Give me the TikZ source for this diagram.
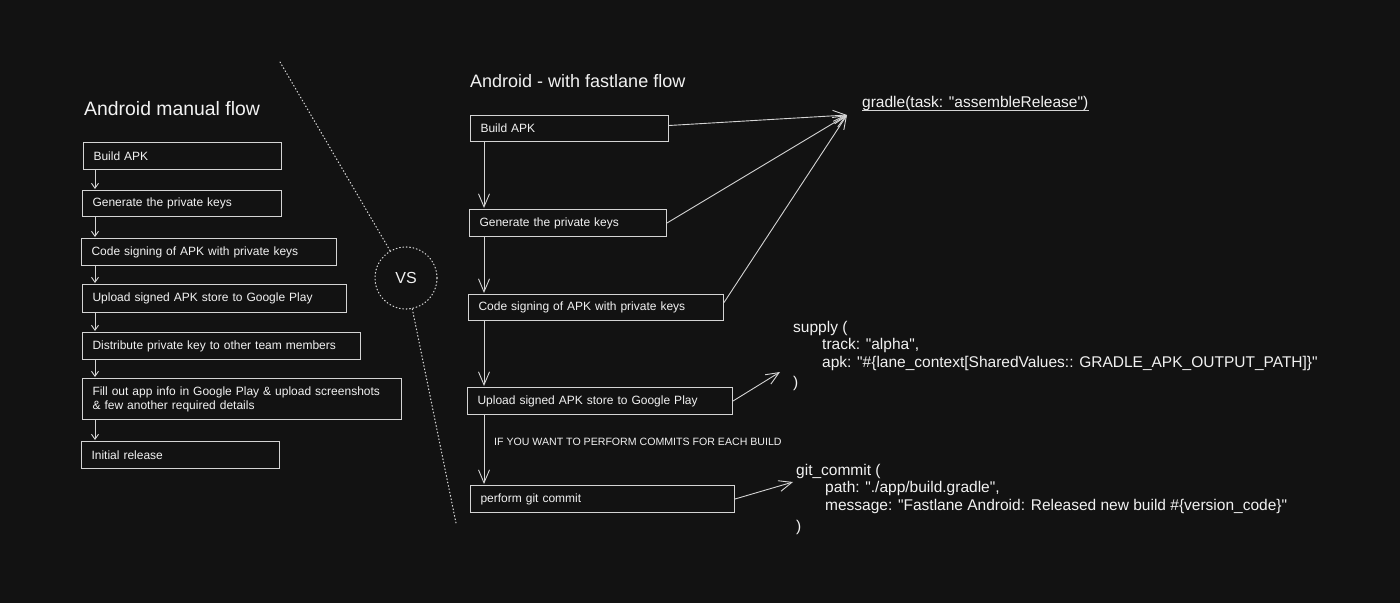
\documentclass[tikz,border=0pt]{standalone}
\usepackage{fontspec}
\setmainfont{Liberation Sans}[Ligatures=TeXOff]
\usetikzlibrary{arrows.meta}
\definecolor{bgc}{HTML}{121212}
\definecolor{linec}{HTML}{D4D4D4}
\definecolor{txtc}{HTML}{F2F2F2}
\begin{document}
\begin{tikzpicture}[x=1pt,y=-1pt,
  stepbox/.style={draw=linec, line width=1pt, anchor=north west, inner xsep=10pt, inner ysep=0pt,
    minimum height=27pt, align=left, text=txtc, font=\fontsize{12}{14}\selectfont},
  titletext/.style={anchor=base west, inner sep=0pt, text=txtc},
  codetext/.style={anchor=base west, inner sep=0pt, text=txtc, font=\fontsize{15.5}{18}\selectfont},
  smallarr/.style={draw=linec, line width=0.9pt, -{Straight Barb[length=5pt,width=7pt]}},
  bigarr/.style={draw=linec, line width=0.9pt, -{Straight Barb[length=13pt,width=11pt]}},
  dotline/.style={draw=linec, line width=1.1pt, dash pattern=on 0.8pt off 2.6pt, line cap=round}
]
\useasboundingbox[fill=bgc] (0,0) rectangle (1400,603);

% ---------- left: manual flow ----------
\node[titletext, font=\fontsize{19.4}{22}\selectfont] (ltitle) at (84,115) {Android manual flow};

\node[stepbox, text width=178pt, minimum height=27pt] (L1) at (83,142) {Build APK};
\node[stepbox, text width=179pt, minimum height=26pt] (L2) at (82,190) {Generate the private keys};
\node[stepbox, text width=235pt, minimum height=27pt] (L3) at (81,238) {Code signing of APK with private keys};
\node[stepbox, text width=244pt, minimum height=28pt] (L4) at (82,284) {Upload signed APK store to Google Play};
\node[stepbox, text width=258pt, minimum height=27pt] (L5) at (82,332) {Distribute private key to other team members};
\node[stepbox, text width=299pt, minimum height=41pt] (L6) at (82,378) {Fill out app info in Google Play \& upload screenshots\\\& few another required details};
\node[stepbox, text width=178pt, minimum height=27pt] (L7) at (81,441) {Initial release};

\coordinate (lx) at (95,0);
\draw[smallarr] (L1.south -| lx) -- ([yshift=1pt]L2.north -| lx);
\draw[smallarr] (L2.south -| lx) -- ([yshift=1pt]L3.north -| lx);
\draw[smallarr] (L3.south -| lx) -- ([yshift=1pt]L4.north -| lx);
\draw[smallarr] (L4.south -| lx) -- ([yshift=1pt]L5.north -| lx);
\draw[smallarr] (L5.south -| lx) -- ([yshift=1pt]L6.north -| lx);
\draw[smallarr] (L6.south -| lx) -- ([yshift=1pt]L7.north -| lx);

% ---------- divider ----------
\node[circle, draw=linec, line width=1.1pt, dash pattern=on 0.8pt off 2.6pt, line cap=round,
      minimum size=62pt, inner sep=0pt, text=txtc, font=\fontsize{16}{18}\selectfont] (vs) at (406,278) {VS};
\coordinate (dtop) at (280,62);
\coordinate (dbot) at (456,523);
\draw[dotline] (dtop) -- (vs);
\draw[dotline] (vs) -- (dbot);

% ---------- right: fastlane flow ----------
\node[titletext, font=\fontsize{18}{21}\selectfont] (rtitle) at (470,87) {Android - with fastlane flow};

\node[stepbox, text width=178pt, minimum height=26pt] (R1) at (470,115) {Build APK};
\node[stepbox, text width=177pt, minimum height=27pt] (R2) at (469,209) {Generate the private keys};
\node[stepbox, text width=235pt, minimum height=26pt] (R3) at (468,294) {Code signing of APK with private keys};
\node[stepbox, text width=245pt, minimum height=27pt] (R4) at (467,387) {Upload signed APK store to Google Play};
\node[stepbox, text width=244pt, minimum height=27pt] (R5) at (470,485) {perform git commit};

\coordinate (rx) at (484,0);
\draw[bigarr] (R1.south -| rx) -- ([yshift=1pt]R2.north -| rx);
\draw[bigarr] (R2.south -| rx) -- ([yshift=1pt]R3.north -| rx);
\draw[bigarr] (R3.south -| rx) -- ([yshift=1pt]R4.north -| rx);
\draw[bigarr] (R4.south -| rx) -- ([yshift=1pt]R5.north -| rx);

\node[anchor=base west, inner sep=0pt, text=txtc, font=\fontsize{10.6}{12}\selectfont] (iflabel) at (494,445)
  {IF YOU WANT TO PERFORM COMMITS FOR EACH BUILD};

% gradle
\node[codetext] (gradle) at (862,107) {gradle(task: "assembleRelease")};
\draw[draw=linec, line width=1pt] ([yshift=-3.5pt]gradle.base west) -- ([yshift=-3.5pt]gradle.base east);
\coordinate (gtip) at (847,115);
\draw[bigarr] ([yshift=3pt]R1.east) -- (gtip);
\draw[bigarr] (R2.east) -- (gtip);
\draw[bigarr] ([yshift=5pt]R3.east) -- (gtip);

% supply
\node[codetext] (s1) at (793,332) {supply (};
\node[codetext] (s2) at (822,349) {track: "alpha",};
\node[codetext] (s3) at (822,367) {apk: "\#\{lane\_context[SharedValues:: GRADLE\_APK\_OUTPUT\_PATH]\}"};
\node[codetext] (s4) at (793,387) {)};
\coordinate (stip) at (780,372);
\draw[bigarr] (R4.east) -- (stip);

% git commit
\node[codetext] (g1) at (796,475) {git\_commit (};
\node[codetext] (g2) at (825,492) {path: "./app/build.gradle",};
\node[codetext] (g3) at (825,510) {message: "Fastlane Android: Released new build \#\{version\_code\}"};
\node[codetext] (g4) at (796,531) {)};
\coordinate (ctip) at (793,482);
\draw[bigarr] (R5.east) -- (ctip);
\end{tikzpicture}
\end{document}
